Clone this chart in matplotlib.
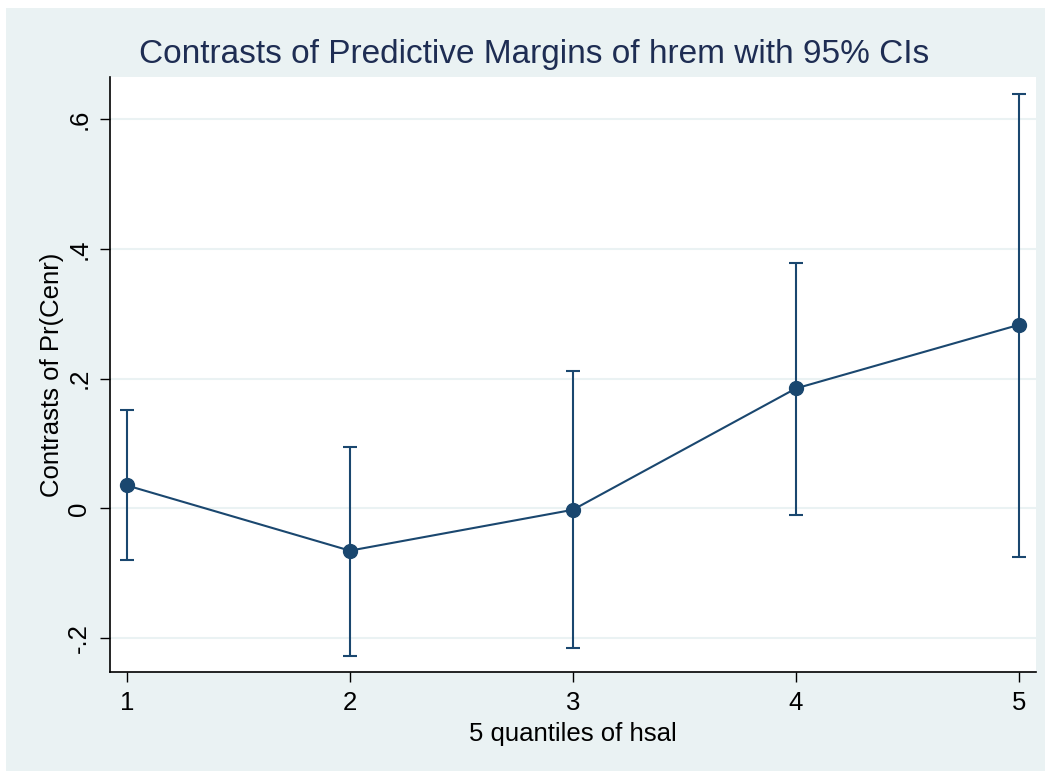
import matplotlib.pyplot as plt
from matplotlib.patches import Rectangle

plt.rcParams['font.family'] = ['Liberation Sans', 'DejaVu Sans']

# quantiles of hsal, contrasts and 95% CI bounds
quantiles = [1, 2, 3, 4, 5]
contrast = [0.0355, -0.065, -0.002, 0.185, 0.283]
ci_low = [-0.080, -0.227, -0.215, -0.010, -0.074]
ci_high = [0.152, 0.095, 0.212, 0.379, 0.639]
yticks = [-0.2, 0, 0.2, 0.4, 0.6]
yticklabels = ['-.2', '0', '.2', '.4', '.6']

navy = '#1A476F'
bg = '#EAF2F3'

fig = plt.figure(figsize=(10.49, 7.71), dpi=100)
fig.patch.set_facecolor('white')
# stata outer region
fig.patches.append(Rectangle((6 / 1049, 0), 1039 / 1049, 763 / 771,
                             transform=fig.transFigure, facecolor=bg,
                             edgecolor='none', zorder=-10))

ax = fig.add_axes([110 / 1049, 1 - 672 / 771, 926 / 1049, 595 / 771])
ax.set_zorder(1)
ax.set_facecolor('white')

err_lo = [c - l for c, l in zip(contrast, ci_low)]
err_hi = [h - c for c, h in zip(contrast, ci_high)]
ax.errorbar(quantiles, contrast, yerr=[err_lo, err_hi], fmt='none',
            ecolor=navy, elinewidth=1.5, capsize=4.8, capthick=1.5, zorder=3)
ax.plot(quantiles, contrast, color=navy, lw=1.5, marker='o', ms=10,
        zorder=4)

ax.set_xlim(0.924, 5.077)
ax.set_ylim(-0.252, 0.665)
ax.set_xticks(quantiles)
ax.set_yticks(yticks)
ax.set_yticklabels(yticklabels, rotation=90, va='center')
ax.tick_params(axis='both', direction='out', length=7.5, width=1,
               labelsize=18.5, color='black')
ax.tick_params(axis='x', pad=6)
ax.tick_params(axis='y', pad=6)
ax.grid(axis='y', color=bg, lw=1.5)
ax.set_axisbelow(True)
for s in ['top', 'right']:
    ax.spines[s].set_visible(False)
for s in ['left', 'bottom']:
    ax.spines[s].set_linewidth(1.2)

ax.set_xlabel('5 quantiles of hsal', fontsize=18.5, labelpad=5)
ax.set_ylabel('Contrasts of Pr(Cenr)', fontsize=18.5, labelpad=2)

fig.text(534 / 1049, 1 - 55 / 771,
         'Contrasts of Predictive Margins of hrem with 95% CIs',
         ha='center', va='center', fontsize=24, color='#1E2D53')

fig.savefig('out.png', dpi=100, facecolor=fig.get_facecolor())
